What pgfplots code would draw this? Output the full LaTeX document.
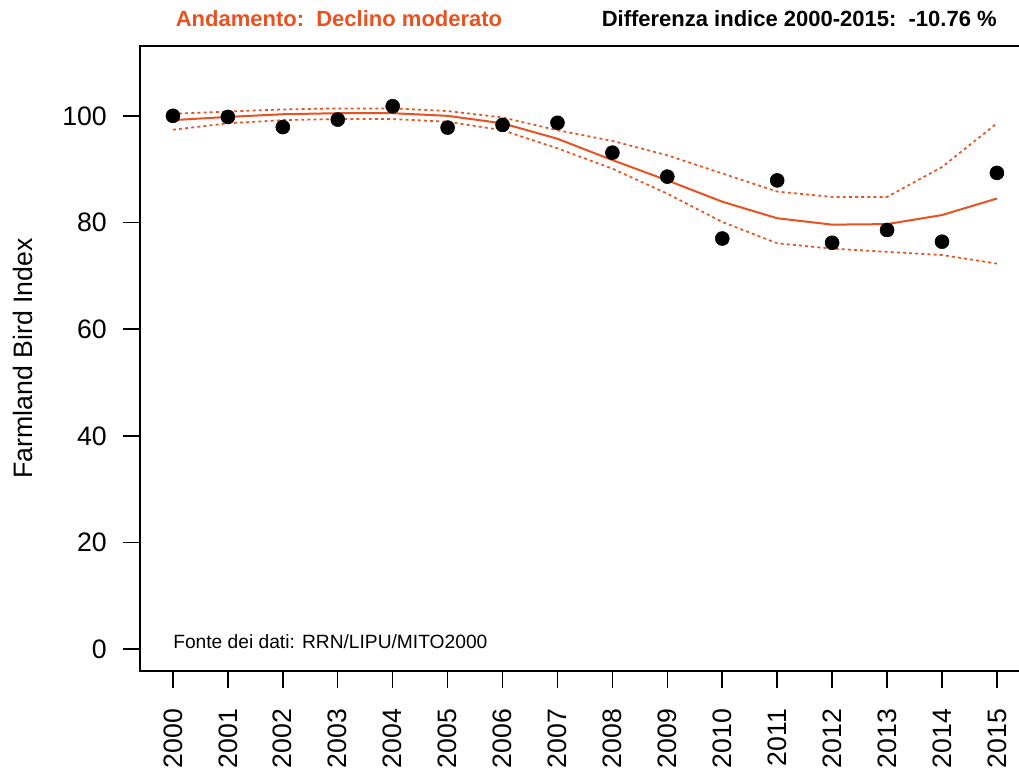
\documentclass[border=0pt]{standalone}
\usepackage{pgfplots}
\pgfplotsset{compat=1.18}
\usepackage{pgfplotstable}
\usepackage{fontspec}
\setmainfont{Liberation Sans}
\definecolor{trend}{RGB}{232,82,32}

\pgfplotstableread{
year idx trend upper lower
2000 100.0 99.2 100.4 97.4
2001 99.8 99.8 100.8 98.6
2002 97.9 100.3 101.2 99.2
2003 99.3 100.5 101.4 99.4
2004 101.8 100.5 101.4 99.4
2005 97.8 100.0 100.9 98.9
2006 98.3 98.6 99.7 97.3
2007 98.7 95.7 97.3 93.9
2008 93.1 91.7 95.3 90.1
2009 88.6 87.9 92.6 85.4
2010 77.0 83.9 89.2 80.1
2011 87.9 80.8 85.8 76.1
2012 76.2 79.6 84.8 75.1
2013 78.6 79.7 84.8 74.5
2014 76.4 81.4 90.4 73.9
2015 89.3 84.5 98.6 72.3
}\data

\begin{document}
\begin{tikzpicture}
\useasboundingbox (0,0) rectangle (764.25pt,578.25pt);
\begin{axis}[
  scale only axis,
  width=667.4pt, height=468.75pt,
  at={(105pt,75pt)}, anchor=south west,
  xmin=1999.4, xmax=2015.6,
  ymin=-4.1, ymax=113.1,
  axis line style={line width=1.2pt},
  tick style={line width=1.1pt, black},
  tick align=outside,
  tick pos=left,
  major tick length=12.75pt,
  xtick={2000,...,2015},
  ytick={0,20,...,100},
  xticklabel style={rotate=90, anchor=east, inner sep=0pt},
  yticklabel style={anchor=east, inner sep=0pt},
  xticklabel shift=15.5pt,
  yticklabel shift=12pt,
  ticklabel style={font=\fontsize{20}{24}\selectfont},
  /pgf/number format/assume math mode=true,
  x tick label style={/pgf/number format/1000 sep={}},
  clip=false,
]
\addplot[trend, line width=1.5pt] table[x=year,y=trend]{\data};
\addplot[trend, line width=1.3pt, dash pattern=on 2.2pt off 2.4pt] table[x=year,y=upper]{\data};
\addplot[trend, line width=1.3pt, dash pattern=on 2.2pt off 2.4pt] table[x=year,y=lower]{\data};
\addplot[only marks, mark=*, mark size=5.25pt, black] table[x=year,y=idx]{\data};
\end{axis}
\node[anchor=base, rotate=90, inner sep=0pt, font=\fontsize{20}{24}\selectfont] at (24pt,309.4pt) {Farmland Bird Index};
\node[anchor=base, inner sep=0pt, text=trend, font=\fontsize{16.5}{20}\selectfont\bfseries] at (254.25pt,558pt) {Andamento:\ \ Declino moderato};
\node[anchor=base east, inner sep=0pt, font=\fontsize{16.5}{20}\selectfont\bfseries] at (747.75pt,558pt) {Differenza indice 2000-2015:\ \ -10.76 \%};
\node[anchor=base west, inner sep=0pt, font=\fontsize{14.4}{17}\selectfont] at (129.75pt,92.25pt) {Fonte dei dati: RRN/LIPU/MITO2000};
\end{tikzpicture}
\end{document}
